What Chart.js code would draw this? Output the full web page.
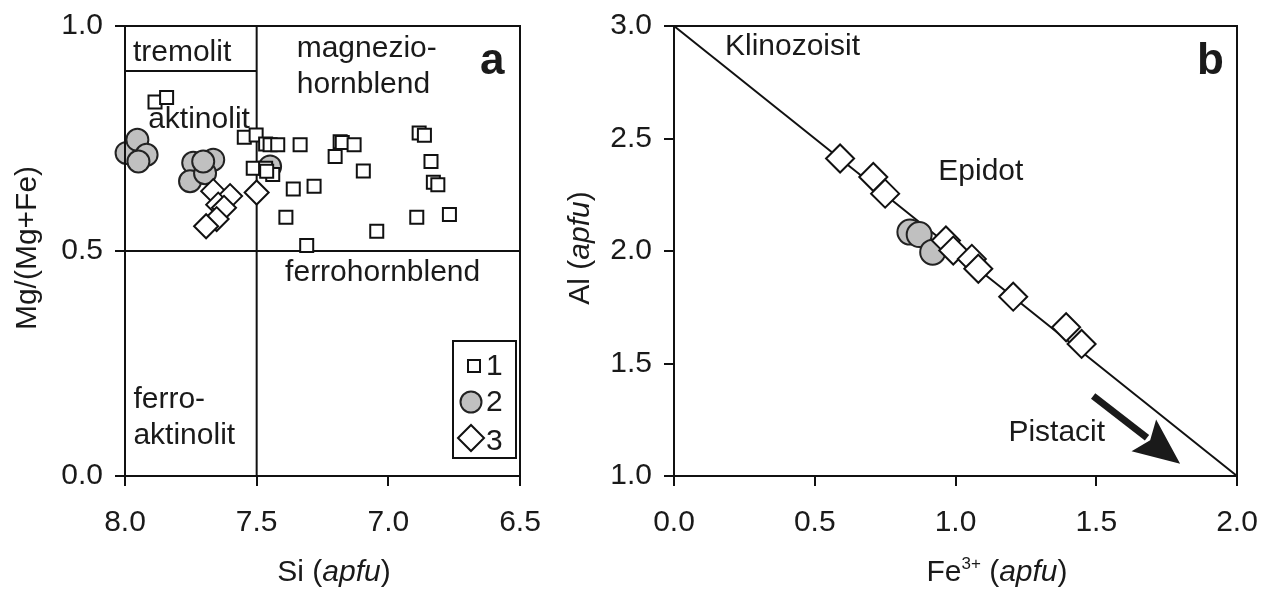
<!DOCTYPE html>
<html>
<head>
<meta charset="utf-8">
<script src="https://cdn.jsdelivr.net/npm/chart.js@4.4.0/dist/chart.umd.min.js"></script>
<style>
  body { margin: 0; background: #fff; width: 1267px; height: 590px; overflow: hidden; position: relative; }
  canvas { position: absolute; top: 0; }
  #chartA { left: 0; }
  #chartB { left: 545px; }
</style>
</head>
<body>
<canvas id="chartA" width="545" height="590"></canvas>
<canvas id="chartB" width="722" height="590"></canvas>
<script>
// panel a: amphibole, Si (apfu) vs Mg/(Mg+Fe)
const siGroup1 = [7.886, 7.842, 7.547, 7.502, 7.466, 7.449, 7.420, 7.335, 7.183, 7.175, 7.130, 7.202, 7.095,
                  6.883, 6.863, 6.838, 6.829, 6.812, 6.768, 6.892, 7.044, 7.310, 7.389, 7.361, 7.282,
                  7.513, 7.466, 7.439, 7.462];
const mgGroup1 = [0.831, 0.841, 0.753, 0.758, 0.738, 0.736, 0.736, 0.736, 0.743, 0.741, 0.736, 0.710, 0.678,
                  0.762, 0.757, 0.699, 0.653, 0.647, 0.581, 0.575, 0.544, 0.512, 0.575, 0.638, 0.644,
                  0.684, 0.684, 0.670, 0.677];
const siGroup2 = [7.994, 7.953, 7.918, 7.949, 7.741, 7.665, 7.753, 7.696, 7.703, 7.449];
const mgGroup2 = [0.718, 0.747, 0.714, 0.699, 0.696, 0.703, 0.655, 0.673, 0.699, 0.688];
const siGroup3 = [7.665, 7.601, 7.646, 7.624, 7.652, 7.692, 7.500];
const mgGroup3 = [0.633, 0.622, 0.603, 0.596, 0.571, 0.555, 0.630];

// field boundaries of the amphibole diagram
const fieldLinesA = [
  [[8.0, 0.5], [6.5, 0.5]],
  [[7.5, 0.0], [7.5, 1.0]],
  [[8.0, 0.9], [7.5, 0.9]]
];
const fieldNamesA = [
  { text: 'tremolit', x: 7.97, y: 0.923 },
  { text: 'magnezio-', x: 7.348, y: 0.931 },
  { text: 'hornblend', x: 7.348, y: 0.852 },
  { text: 'aktinolit', x: 7.912, y: 0.773 },
  { text: 'ferrohornblend', x: 7.392, y: 0.433 },
  { text: 'ferro-', x: 7.968, y: 0.152 },
  { text: 'aktinolit', x: 7.968, y: 0.071 }
];
const legendNames = ['1', '2', '3'];

// panel b: epidote, Fe3+ vs Al (apfu)
const feGroup2 = [0.838, 0.871, 0.919];
const alGroup2 = [2.084, 2.073, 1.995];
const feGroup3 = [0.590, 0.708, 0.750, 0.966, 0.992, 1.058, 1.081, 1.205, 1.393, 1.448];
const alGroup3 = [2.411, 2.329, 2.255, 2.047, 2.002, 1.965, 1.921, 1.797, 1.661, 1.587];
const joinLineB = [[0.0, 3.0], [2.0, 1.0]];
const arrowB = [[1.489, 1.356], [1.798, 1.055]];
const fieldNamesB = [
  { text: 'Klinozoisit', x: 0.181, y: 2.871 },
  { text: 'Epidot', x: 0.939, y: 2.317 },
  { text: 'Pistacit', x: 1.188, y: 1.156 }
];

const FONT = '"Liberation Sans", Arial, sans-serif';
const INK = '#1a1a1a';
const GREY = '#c0c0c0';

function pairs(xs, ys) { return xs.map((v, i) => ({ x: v, y: ys[i] })); }
function seg(line) { return line.map(p => ({ x: p[0], y: p[1] })); }

function lineSet(line) {
  return { type: 'line', data: seg(line), borderColor: '#111', borderWidth: 2, pointRadius: 0,
           showLine: true, fill: false, order: 5, clip: false };
}

function drawRich(ctx, parts, cx, by) {
  let w = 0;
  parts.forEach(p => { ctx.font = p.font; p.w = ctx.measureText(p.t).width; w += p.w; });
  let x = cx - w / 2;
  ctx.textAlign = 'left';
  ctx.textBaseline = 'alphabetic';
  parts.forEach(p => { ctx.font = p.font; ctx.fillText(p.t, x, by + (p.dy || 0)); x += p.w; });
}

// fixed axis sizes so the plot areas land where the original ones are
function axisOpts(min, max, reverse, isX, size) {
  return {
    type: 'linear', min: min, max: max, reverse: reverse,
    afterFit: isX
      ? (s => { s.height = size; s.paddingLeft = 0; s.paddingRight = 0; })
      : (s => { s.width = size; s.paddingTop = 0; s.paddingBottom = 0; }),
    grid: { drawOnChartArea: false, drawTicks: true, tickLength: 10, color: '#111', lineWidth: 2 },
    border: { color: '#111', width: 2 },
    ticks: { stepSize: 0.5, color: INK, padding: isX ? 19 : 12,
             font: { family: FONT, size: 30 }, callback: v => v.toFixed(1) }
  };
}

function boxAndLabels(names, tag) {
  return {
    id: 'boxAndLabels',
    afterDatasetsDraw(chart) {
      const { ctx, chartArea: ca, scales: { x, y } } = chart;
      ctx.save();
      ctx.strokeStyle = '#111';
      ctx.lineWidth = 2;
      ctx.strokeRect(ca.left, ca.top, ca.width, ca.height);
      ctx.fillStyle = INK;
      ctx.font = '30px ' + FONT;
      ctx.textAlign = 'left';
      ctx.textBaseline = 'alphabetic';
      names.forEach(n => ctx.fillText(n.text, x.getPixelForValue(n.x), y.getPixelForValue(n.y)));
      ctx.font = 'bold 44px ' + FONT;
      ctx.fillText(tag, ca.right - 40, ca.top + 48);
      ctx.restore();
    }
  };
}

// ---------- panel a ----------
const legendA = {
  id: 'legendA',
  afterDraw(chart) {
    const { ctx, chartArea: ca } = chart;
    const bx = ca.right - 67, by = ca.top + 315, bw = 63, bh = 117;
    ctx.save();
    ctx.fillStyle = '#fff';
    ctx.fillRect(bx, by, bw, bh);
    ctx.strokeStyle = '#111';
    ctx.lineWidth = 2;
    ctx.strokeRect(bx, by, bw, bh);
    // square
    ctx.strokeRect(bx + 15, by + 19, 12, 12);
    // circle
    ctx.beginPath();
    ctx.arc(bx + 18, by + 61, 10.5, 0, Math.PI * 2);
    ctx.fillStyle = GREY;
    ctx.fill();
    ctx.strokeStyle = '#222';
    ctx.stroke();
    // diamond
    ctx.beginPath();
    const dx = bx + 18, dy = by + 97, r = 13;
    ctx.moveTo(dx - r, dy); ctx.lineTo(dx, dy - r); ctx.lineTo(dx + r, dy); ctx.lineTo(dx, dy + r); ctx.closePath();
    ctx.fillStyle = '#fff';
    ctx.fill();
    ctx.strokeStyle = '#111';
    ctx.stroke();
    ctx.fillStyle = INK;
    ctx.font = '30px ' + FONT;
    ctx.textAlign = 'left';
    ctx.textBaseline = 'alphabetic';
    ctx.fillText(legendNames[0], bx + 33, by + 34);
    ctx.fillText(legendNames[1], bx + 33, by + 70);
    ctx.fillText(legendNames[2], bx + 33, by + 109);
    ctx.restore();
  }
};

const titlesA = {
  id: 'titlesA',
  afterDraw(chart) {
    const ctx = chart.ctx;
    ctx.save();
    ctx.fillStyle = INK;
    drawRich(ctx, [
      { t: 'Si (', font: '30px ' + FONT },
      { t: 'apfu', font: 'italic 30px ' + FONT },
      { t: ')', font: '30px ' + FONT }
    ], 334, 581);
    ctx.translate(36, 248);
    ctx.rotate(-Math.PI / 2);
    drawRich(ctx, [{ t: 'Mg/(Mg+Fe)', font: '30px ' + FONT }], 0, 0);
    ctx.restore();
  }
};

new Chart(document.getElementById('chartA'), {
  type: 'scatter',
  data: {
    datasets: [
      ...fieldLinesA.map(lineSet),
      { label: '2', data: pairs(siGroup2, mgGroup2), pointStyle: 'circle', pointRadius: 11,
        backgroundColor: GREY, borderColor: '#222', borderWidth: 2, order: 3, clip: false },
      { label: '1', data: pairs(siGroup1, mgGroup1), pointStyle: 'rect', pointRadius: 9.2,
        backgroundColor: '#fff', borderColor: '#111', borderWidth: 2, order: 2, clip: false },
      { label: '3', data: pairs(siGroup3, mgGroup3), pointStyle: 'rectRot', pointRadius: 12,
        backgroundColor: '#fff', borderColor: '#111', borderWidth: 2, order: 1, clip: false }
    ]
  },
  options: {
    responsive: false,
    animation: false,
    events: [],
    layout: { padding: { left: 0, right: 25, top: 26, bottom: 0 } },
    plugins: { legend: { display: false }, tooltip: { enabled: false } },
    scales: {
      x: axisOpts(6.5, 8.0, true, true, 114),
      y: axisOpts(0, 1.0, false, false, 125)
    }
  },
  plugins: [boxAndLabels(fieldNamesA, 'a'), legendA, titlesA]
});

// ---------- panel b ----------
const arrowPlugin = {
  id: 'arrowB',
  afterDatasetsDraw(chart) {
    const { ctx, scales: { x, y } } = chart;
    const x0 = x.getPixelForValue(arrowB[0][0]), y0 = y.getPixelForValue(arrowB[0][1]);
    const x1 = x.getPixelForValue(arrowB[1][0]), y1 = y.getPixelForValue(arrowB[1][1]);
    const ang = Math.atan2(y1 - y0, x1 - x0);
    const head = 46, half = 20;
    const hx = x1 - head * Math.cos(ang), hy = y1 - head * Math.sin(ang);
    ctx.save();
    ctx.strokeStyle = '#1a1a1a';
    ctx.fillStyle = '#1a1a1a';
    ctx.lineWidth = 7;
    ctx.beginPath();
    ctx.moveTo(x0, y0);
    ctx.lineTo(hx + 4 * Math.cos(ang), hy + 4 * Math.sin(ang));
    ctx.stroke();
    ctx.beginPath();
    ctx.moveTo(x1, y1);
    ctx.lineTo(hx - half * Math.sin(ang), hy + half * Math.cos(ang));
    ctx.lineTo(hx + 8 * Math.cos(ang), hy + 8 * Math.sin(ang));
    ctx.lineTo(hx + half * Math.sin(ang), hy - half * Math.cos(ang));
    ctx.closePath();
    ctx.fill();
    ctx.restore();
  }
};

const titlesB = {
  id: 'titlesB',
  afterDraw(chart) {
    const ctx = chart.ctx;
    ctx.save();
    ctx.fillStyle = INK;
    drawRich(ctx, [
      { t: 'Fe', font: '30px ' + FONT },
      { t: '3+', font: '17px ' + FONT, dy: -12 },
      { t: ' (', font: '30px ' + FONT },
      { t: 'apfu', font: 'italic 30px ' + FONT },
      { t: ')', font: '30px ' + FONT }
    ], 452, 581);
    ctx.translate(44, 248);
    ctx.rotate(-Math.PI / 2);
    drawRich(ctx, [
      { t: 'Al (', font: '30px ' + FONT },
      { t: 'apfu', font: 'italic 30px ' + FONT },
      { t: ')', font: '30px ' + FONT }
    ], 0, 0);
    ctx.restore();
  }
};

new Chart(document.getElementById('chartB'), {
  type: 'scatter',
  data: {
    datasets: [
      lineSet(joinLineB),
      { label: '2', data: pairs(feGroup2, alGroup2), pointStyle: 'circle', pointRadius: 12.5,
        backgroundColor: GREY, borderColor: '#222', borderWidth: 2, order: 3, clip: false },
      { label: '3', data: pairs(feGroup3, alGroup3), pointStyle: 'rectRot', pointRadius: 14,
        backgroundColor: '#fff', borderColor: '#111', borderWidth: 2, order: 1, clip: false }
    ]
  },
  options: {
    responsive: false,
    animation: false,
    events: [],
    layout: { padding: { left: 0, right: 30, top: 26, bottom: 0 } },
    plugins: { legend: { display: false }, tooltip: { enabled: false } },
    scales: {
      x: axisOpts(0, 2.0, false, true, 114),
      y: axisOpts(1.0, 3.0, false, false, 129)
    }
  },
  plugins: [boxAndLabels(fieldNamesB, 'b'), arrowPlugin, titlesB]
});
</script>
</body>
</html>
